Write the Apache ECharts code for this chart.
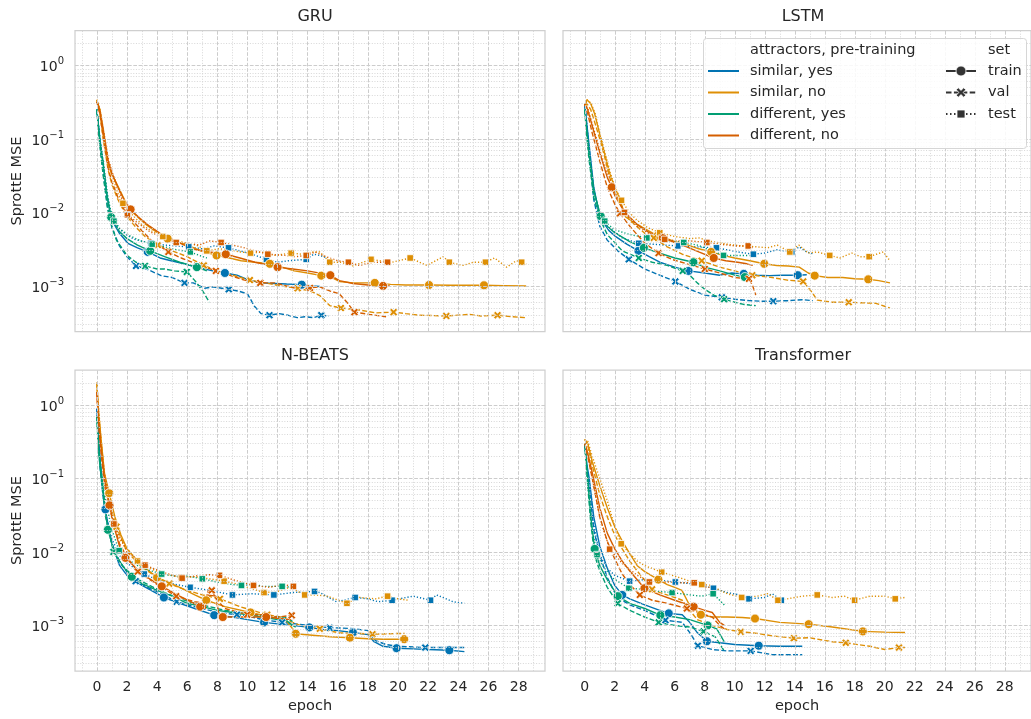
<!DOCTYPE html>
<html><head><meta charset="utf-8">
<script src="https://cdn.jsdelivr.net/npm/echarts@6.0.0/dist/echarts.min.js"></script>
<style>html,body{margin:0;padding:0;background:#fff}#c{width:1031px;height:719px}</style>
</head><body><div id="c"></div>
<script>
// ---------------- labels / ticks ----------------
const PANEL_TITLES = ['GRU', 'LSTM', 'N-BEATS', 'Transformer'];
const GROUP_LABELS = ['similar, yes', 'similar, no', 'different, yes', 'different, no'];
const SET_LABELS = ['train', 'val', 'test'];
const LEGEND_TITLE_GROUP = 'attractors, pre-training';
const LEGEND_TITLE_SET = 'set';
const X_TICKS = [0, 2, 4, 6, 8, 10, 12, 14, 16, 18, 20, 22, 24, 26, 28];
const Y_TICK_EXP = [-3, -2, -1, 0];
const Y_NAME = 'SprottE MSE';
const X_NAME = 'epoch';

// ---------------- data: [epoch, MSE, marker?] ----------------
// GRU
const gru_simYes_train = [[0,0.25],[0.2,0.1],[0.42,0.046],[0.68,0.017],[0.9,0.0095],[1.1,0.0072],[1.5,0.0052],[2.06,0.0038],[2.7,0.0033],[3.38,0.0029,1],[4.2,0.0024],[4.93,0.0022],[5.8,0.002],[6.7,0.00178],[7.7,0.0016],[8.5,0.0015,1],[9.3,0.0014],[10.1,0.0012],[10.9,0.0011],[11.8,0.00108],[12.6,0.00106],[13.6,0.00104,1],[14.3,0.001],[14.8,0.00098]];
const gru_simYes_val = [[0,0.25],[0.2,0.09],[0.42,0.035],[0.7,0.012],[1.0,0.0062],[1.5,0.0035],[2.0,0.0025],[2.6,0.00187,1],[3.3,0.0017],[4.27,0.00138],[5.0,0.0013],[5.82,0.0011,1],[6.4,0.0011],[7.15,0.00093],[7.7,0.00097],[8.76,0.0009,1],[9.4,0.00085],[10.0,0.00078],[10.46,0.00053],[10.9,0.00042],[11.46,0.0004,1],[12.1,0.00042],[12.67,0.0004],[13.3,0.00037],[13.8,0.00038],[14.4,0.00037],[14.9,0.0004,1],[15.4,0.00039]];
const gru_simYes_test = [[0,0.25],[0.2,0.1],[0.45,0.04],[0.7,0.016],[1.0,0.0088],[1.5,0.006],[2.0,0.0049],[2.5,0.0043],[3.6,0.0038,1],[4.5,0.0036],[5.2,0.0035],[6.1,0.0034,1],[7.0,0.0032],[7.8,0.0035],[8.74,0.0033,1],[9.5,0.003],[10.3,0.0027],[11.26,0.0023,1],[12.0,0.0021],[12.7,0.0022],[13.9,0.0023,1],[14.4,0.0027],[14.8,0.0026],[15.3,0.0024]];
const gru_simNo_train = [[0,0.34],[0.2,0.25],[0.42,0.13],[0.75,0.046],[0.97,0.034],[1.3,0.025],[1.75,0.0162],[2.08,0.0118],[2.5,0.0095],[3.16,0.0071],[3.9,0.0055],[4.7,0.0044,1],[5.4,0.0039],[6.04,0.0036],[6.9,0.003],[7.95,0.0026,1],[8.8,0.0024],[9.58,0.0022],[10.5,0.0021],[11.48,0.002,1],[12.3,0.0018],[13.1,0.0016],[14.0,0.0015],[14.9,0.00138,1],[15.6,0.0013],[16.1,0.00115],[17.0,0.0011],[18.45,0.0011,1],[19.5,0.00105],[20.5,0.00103],[22.05,0.00103,1],[23.5,0.00102],[25.7,0.00102,1],[27.0,0.00101],[28.5,0.001]];
const gru_simNo_val = [[0,0.34],[0.2,0.22],[0.42,0.1],[0.75,0.038],[1.0,0.024],[1.4,0.015],[1.9,0.0095],[2.5,0.0066],[3.2,0.0047],[4.05,0.0036,1],[5.0,0.003],[6.0,0.0025],[7.1,0.0019,1],[8.0,0.0016],[9.0,0.0014],[10.16,0.0012,1],[11.2,0.0011],[12.2,0.001],[13.33,0.00093,1],[14.2,0.00085],[14.8,0.00074],[15.46,0.00054],[16.2,0.0005,1],[17.45,0.00047],[18.5,0.00043],[19.7,0.00044,1],[20.5,0.00042],[21.4,0.0004],[23.2,0.00039,1],[24.76,0.00041],[25.5,0.00039],[26.6,0.0004,1],[27.6,0.00038],[28.5,0.00037]];
const gru_simNo_test = [[0,0.34],[0.2,0.26],[0.42,0.14],[0.75,0.05],[1.0,0.033],[1.4,0.018],[1.73,0.0133,1],[2.3,0.0095],[3.0,0.0068],[3.7,0.0055],[4.38,0.0047,1],[5.2,0.0042],[6.0,0.0038],[6.6,0.0036],[7.3,0.003,1],[8.1,0.0032],[8.8,0.0031],[9.5,0.0029],[10.2,0.0028,1],[11.0,0.0029],[11.8,0.0026],[12.9,0.0028,1],[13.6,0.0027],[14.3,0.0029],[14.8,0.0029],[15.46,0.0021,1],[16.2,0.0021],[17.0,0.00187],[18.2,0.0023,1],[18.8,0.0022],[19.6,0.0021],[20.8,0.0024,1],[21.9,0.0019],[23.0,0.0025],[23.4,0.0021,1],[24.3,0.0019],[25.0,0.0021],[25.8,0.0021,1],[26.4,0.0024],[27.2,0.0018],[27.85,0.0022],[28.2,0.0021,1],[28.5,0.002]];
const gru_difYes_train = [[0,0.25],[0.2,0.09],[0.42,0.046],[0.68,0.0163],[0.95,0.0086,1],[1.5,0.0055],[2.0,0.0044],[2.7,0.0036],[3.54,0.003,1],[4.5,0.0025],[5.5,0.0021],[6.64,0.0018,1],[7.0,0.0017],[7.3,0.0016]];
const gru_difYes_val = [[0,0.25],[0.2,0.08],[0.42,0.032],[0.7,0.012],[0.9,0.0075],[1.3,0.0042],[2.0,0.0026],[2.6,0.0021],[3.2,0.00187,1],[4.0,0.0017],[4.5,0.0017],[5.15,0.0016],[5.97,0.00155,1],[6.48,0.0012],[7.0,0.00087],[7.47,0.0006]];
const gru_difYes_test = [[0,0.25],[0.2,0.1],[0.42,0.05],[0.7,0.018],[0.9,0.011],[1.13,0.0076,1],[1.6,0.0058],[2.2,0.0048],[2.9,0.0041],[3.67,0.0037,1],[4.5,0.0034],[5.3,0.0031],[6.2,0.0029,1],[6.8,0.0026],[7.3,0.0024]];
const gru_difNo_train = [[0,0.32],[0.2,0.24],[0.42,0.13],[0.75,0.05],[1.0,0.034],[1.4,0.022],[1.8,0.015],[2.24,0.011,1],[2.8,0.0085],[3.5,0.0065],[4.2,0.0052],[5.0,0.0043],[5.8,0.0036],[6.6,0.0031],[7.5,0.0029],[8.56,0.0027,1],[9.5,0.0024],[10.5,0.0021],[12.0,0.0018,1],[13.0,0.0017],[14.0,0.0016],[15.5,0.0014,1],[16.1,0.00118],[17.0,0.00108],[18.0,0.00103],[19.0,0.001,1],[19.45,0.001]];
const gru_difNo_val = [[0,0.32],[0.2,0.22],[0.42,0.11],[0.75,0.04],[1.0,0.026],[1.4,0.016],[1.8,0.011],[2.2,0.0085],[2.8,0.0062],[3.6,0.0042],[4.75,0.0029,1],[5.6,0.0024],[6.6,0.002],[7.9,0.0016,1],[8.8,0.0014],[9.8,0.0012],[10.85,0.0011,1],[11.8,0.0011],[12.6,0.001],[13.4,0.00092],[14.15,0.00094,1],[14.8,0.00097],[15.5,0.00085],[16.1,0.00078],[16.6,0.0006],[17.1,0.00044,1],[18.1,0.00041],[19.2,0.00038]];
const gru_difNo_test = [[0,0.32],[0.2,0.25],[0.42,0.14],[0.75,0.055],[1.0,0.036],[1.5,0.019],[2.03,0.0093,1],[2.6,0.0075],[3.5,0.0055],[4.5,0.0043],[5.27,0.0039,1],[6.0,0.0038],[6.8,0.0036],[7.5,0.0041],[8.25,0.0039,1],[9.0,0.0036],[9.8,0.0033],[10.5,0.003],[11.35,0.0027,1],[12.5,0.0026],[13.2,0.0025],[13.9,0.0026,1],[14.5,0.0029],[15.2,0.0025],[16.0,0.0022],[16.7,0.0021,1],[17.45,0.0019],[18.3,0.0021],[19.3,0.0021,1],[19.55,0.002]];

// LSTM
const lstm_simYes_train = [[0,0.3],[0.15,0.15],[0.3,0.08],[0.6,0.022],[0.9,0.011],[1.2,0.0075],[1.6,0.0057],[2.0,0.0048],[2.8,0.0037],[3.58,0.003,1],[4.3,0.0025],[5.0,0.0021],[6.0,0.0018],[6.92,0.0016,1],[8.0,0.0015],[9.0,0.0014],[9.8,0.0015],[10.6,0.00146,1],[11.5,0.0014],[12.3,0.00138],[13.2,0.0014],[14.2,0.0014,1],[14.8,0.00142]];
const lstm_simYes_val = [[0,0.3],[0.15,0.14],[0.3,0.06],[0.6,0.015],[1.0,0.0065],[1.5,0.0042],[2.2,0.003],[2.94,0.0023,1],[4.0,0.0017],[5.0,0.0014],[6.04,0.00115,1],[7.0,0.0009],[8.0,0.00075],[9.14,0.0007,1],[10.0,0.00066],[11.0,0.00063],[11.8,0.00062],[12.57,0.00062,1],[13.5,0.00063],[14.5,0.00065],[15.2,0.00063]];
const lstm_simYes_test = [[0,0.3],[0.15,0.15],[0.3,0.07],[0.6,0.02],[1.0,0.0095],[1.5,0.0065],[2.5,0.0045],[3.6,0.0038,1],[4.5,0.0037],[5.3,0.0036],[6.2,0.0035,1],[7.5,0.0034],[8.78,0.0033,1],[9.5,0.0031],[10.2,0.0029],[11.24,0.0027,1],[12.0,0.0028],[12.8,0.0031],[13.8,0.0029,1],[14.3,0.0034],[14.8,0.0029],[15.3,0.0027]];
const lstm_simNo_train = [[0,0.28],[0.15,0.34],[0.4,0.3],[0.66,0.22],[0.9,0.14],[1.1,0.096],[1.4,0.055],[1.66,0.034],[2.0,0.022],[2.3,0.016],[2.72,0.0087],[3.2,0.0075],[3.83,0.0063],[4.85,0.0048,1],[5.15,0.0047],[6.0,0.004],[6.9,0.0036],[7.6,0.0032],[8.43,0.0029,1],[9.2,0.0026],[10.0,0.0024],[11.0,0.0022],[11.97,0.002,1],[12.8,0.0019],[13.56,0.00187],[14.3,0.0018],[14.9,0.0015],[15.33,0.00138,1],[16.2,0.0013],[17.2,0.0013],[18.0,0.00125],[18.9,0.00123,1],[19.6,0.00118],[20.35,0.0011]];
const lstm_simNo_val = [[0,0.28],[0.15,0.3],[0.4,0.25],[0.7,0.16],[1.0,0.1],[1.3,0.06],[1.66,0.03],[2.0,0.019],[2.3,0.014],[3.0,0.0078],[4.0,0.0052],[4.6,0.0045,1],[5.5,0.0034],[6.5,0.0027],[7.8,0.0022,1],[9.0,0.0018],[10.0,0.0016],[11.17,0.0014,1],[12.5,0.0013],[13.5,0.0012],[14.56,0.00115,1],[15.15,0.00082],[15.5,0.00064],[16.5,0.0006],[17.6,0.0006,1],[18.5,0.00059],[19.4,0.00058],[20.35,0.0005]];
const lstm_simNo_test = [[0,0.28],[0.15,0.34],[0.4,0.31],[0.7,0.22],[1.0,0.12],[1.3,0.07],[1.7,0.035],[2.0,0.022],[2.45,0.0146,1],[3.0,0.0098],[3.5,0.0078],[4.2,0.0062],[5.0,0.0053,1],[6.0,0.0047],[7.0,0.0044],[7.6,0.0045],[8.5,0.004],[9.5,0.0037],[10.5,0.0035],[11.5,0.0034],[12.2,0.0033],[12.83,0.0036],[13.67,0.0029,1],[14.27,0.0036],[14.9,0.0028],[15.5,0.0029],[16.33,0.0026,1],[17.0,0.0024],[17.8,0.0028],[18.4,0.0025],[18.96,0.0025,1],[19.9,0.0029],[20.35,0.0022]];
const lstm_difYes_train = [[0,0.25],[0.15,0.12],[0.3,0.06],[0.6,0.02],[1.06,0.0089,1],[1.5,0.0065],[2.0,0.0053],[3.0,0.004],[3.94,0.0033,1],[5.0,0.0028],[6.0,0.0024],[7.24,0.0021,1],[8.0,0.0018],[9.0,0.0016],[10.0,0.0014],[10.67,0.00132,1],[11.0,0.0013]];
const lstm_difYes_val = [[0,0.25],[0.15,0.1],[0.3,0.05],[0.6,0.016],[1.06,0.0078],[1.5,0.005],[2.5,0.003],[3.6,0.0024,1],[4.5,0.0021],[5.5,0.0019],[6.53,0.0016,1],[7.0,0.0014],[7.5,0.0011],[8.0,0.0009],[8.6,0.00075],[9.29,0.00066,1],[10.0,0.0006],[10.6,0.00056],[11.4,0.00054]];
const lstm_difYes_test = [[0,0.25],[0.15,0.12],[0.3,0.06],[0.6,0.02],[1.0,0.0095],[1.33,0.0076,1],[2.0,0.0058],[3.0,0.005],[4.14,0.0045,1],[5.0,0.0042],[5.8,0.0041],[6.6,0.0039,1],[7.5,0.0036],[8.5,0.003],[9.25,0.0026,1],[10.0,0.0026],[11.0,0.0026]];
const lstm_difNo_train = [[0,0.3],[0.2,0.25],[0.5,0.15],[1.0,0.065],[1.5,0.03],[1.8,0.022,1],[2.0,0.017],[2.6,0.0105],[3.5,0.0068],[4.3,0.0053],[5.2,0.0045,1],[6.0,0.0039],[6.8,0.0034],[7.6,0.0029],[8.6,0.0024,1],[9.4,0.0022],[10.2,0.0021],[10.8,0.002],[11.2,0.0019]];
const lstm_difNo_val = [[0,0.3],[0.2,0.22],[0.5,0.12],[1.0,0.05],[1.5,0.022],[2.0,0.013],[2.35,0.0097,1],[3.0,0.0065],[4.0,0.0038],[4.92,0.0028,1],[5.8,0.0023],[6.8,0.002],[8.0,0.0017,1],[9.0,0.0015],[10.0,0.0013],[10.95,0.00125,1],[11.2,0.001],[11.4,0.00075]];
const lstm_difNo_test = [[0,0.3],[0.2,0.26],[0.5,0.16],[1.0,0.07],[1.5,0.035],[2.0,0.019],[2.65,0.01,1],[3.5,0.0065],[4.4,0.005],[5.33,0.0043,1],[6.2,0.0041],[7.0,0.0041],[8.14,0.0039,1],[9.0,0.0037],[10.0,0.0035],[10.9,0.0035,1],[11.3,0.0032]];

// N-BEATS
const nb_simYes_train = [[0,0.9],[0.1,0.4],[0.2,0.2],[0.4,0.07],[0.57,0.038,1],[0.8,0.02],[1.0,0.013],[1.5,0.0066],[2.0,0.0048],[3.0,0.0035],[4.45,0.0024,1],[5.5,0.002],[6.5,0.0017],[7.79,0.00138,1],[9.0,0.0013],[10.0,0.0012],[11.1,0.0011,1],[12.0,0.00105],[13.0,0.001],[14.1,0.00094,1],[15.0,0.00088],[16.0,0.00085],[17.0,0.0008,1],[18.0,0.00075],[18.4,0.0006],[19.0,0.00052],[19.9,0.00049,1],[21.0,0.00048],[22.0,0.00047],[23.4,0.00046,1],[24.4,0.00044]];
const nb_simYes_val = [[0,0.9],[0.1,0.35],[0.2,0.15],[0.4,0.06],[0.6,0.03],[1.0,0.013],[1.5,0.0075],[2.0,0.0053],[2.58,0.004,1],[3.5,0.0032],[4.3,0.0027],[5.3,0.0021,1],[6.5,0.0018],[7.5,0.0016],[8.0,0.0015],[9.3,0.0014,1],[10.3,0.0013],[11.0,0.0012],[12.3,0.0011,1],[13.2,0.00105],[14.0,0.001],[15.46,0.00093,1],[16.3,0.00092],[17.1,0.0009],[18.0,0.00085],[18.5,0.00062],[19.2,0.00055],[20.0,0.00052],[21.8,0.0005,1],[23.0,0.0005],[24.4,0.0005]];
const nb_simYes_test = [[0,0.9],[0.1,0.4],[0.2,0.18],[0.5,0.04],[1.0,0.015],[1.5,0.009],[2.0,0.007],[3.15,0.005,1],[4.0,0.0042],[5.0,0.0037],[6.19,0.0033,1],[7.5,0.003],[9.0,0.0026,1],[10.3,0.0027],[11.75,0.0026,1],[13.0,0.0028],[14.45,0.0029,1],[14.8,0.0028],[15.9,0.0021],[17.15,0.0024,1],[18.0,0.0023],[18.67,0.0021],[19.6,0.0022,1],[21.0,0.0025],[22.15,0.0022,1],[22.55,0.0026],[23.65,0.0021],[24.4,0.002]];
const nb_simNo_train = [[0,2.0],[0.1,0.9],[0.25,0.4],[0.5,0.12],[0.82,0.063,1],[1.2,0.03],[1.6,0.017],[2.0,0.011],[3.0,0.0065],[4.0,0.0045,1],[5.5,0.0033],[6.5,0.0026],[7.26,0.0022,1],[8.5,0.0018],[10.2,0.0015,1],[11.5,0.0013],[12.5,0.0012],[13.0,0.0009],[13.2,0.00077,1],[14.5,0.00073],[15.5,0.0007],[16.8,0.00068,1],[18.0,0.00066],[19.0,0.00065],[20.4,0.00065,1],[20.5,0.00065]];
const nb_simNo_val = [[0,2.0],[0.1,0.8],[0.3,0.3],[0.6,0.07],[1.0,0.035],[1.3,0.022,1],[2.0,0.01],[3.0,0.0062],[4.0,0.0045],[4.8,0.0037,1],[6.0,0.003],[7.0,0.0026],[8.17,0.0023,1],[9.5,0.0018],[11.3,0.0014,1],[12.2,0.0013],[13.0,0.0011],[13.5,0.001],[14.8,0.0009,1],[16.1,0.00079],[17.2,0.00078],[18.3,0.00076,1],[19.3,0.00077],[20.44,0.00078]];
const nb_simNo_test = [[0,2.0],[0.1,1.0],[0.25,0.4],[0.5,0.1],[1.0,0.03],[1.5,0.015],[2.7,0.0075,1],[3.5,0.006],[4.5,0.005],[5.6,0.0045,1],[6.5,0.0046],[7.5,0.0043],[8.45,0.004,1],[9.5,0.0036],[10.0,0.0033],[11.1,0.0028,1],[12.0,0.0029],[12.8,0.0033],[13.8,0.0026,1],[14.5,0.0026],[15.3,0.0025],[16.6,0.002,1],[17.45,0.0024],[18.5,0.0023],[19.3,0.0025,1],[20.0,0.0023],[20.7,0.0022]];
const nb_difYes_train = [[0,0.7],[0.1,0.3],[0.2,0.15],[0.5,0.045],[0.73,0.02,1],[1.2,0.0095],[1.7,0.0065],[2.32,0.0046,1],[3.0,0.0037],[4.0,0.003],[5.0,0.0025],[6.0,0.002],[7.0,0.0018],[8.0,0.0016],[9.0,0.0015],[10.0,0.0014],[11.0,0.0013],[12.0,0.0012],[12.5,0.0012],[13.0,0.001],[13.2,0.00095]];
const nb_difYes_val = [[0,0.7],[0.1,0.25],[0.3,0.12],[0.6,0.03],[1.1,0.01,1],[1.7,0.0065],[2.5,0.0045],[3.5,0.0035],[4.5,0.0028],[5.5,0.0023],[6.5,0.002],[7.5,0.0018],[8.5,0.0016],[9.5,0.0015],[10.5,0.0014],[11.5,0.0013],[12.5,0.0013],[13.1,0.0011]];
const nb_difYes_test = [[0,0.7],[0.1,0.3],[0.25,0.15],[0.5,0.06],[1.0,0.02],[1.48,0.0104,1],[2.0,0.008],[3.0,0.006],[4.3,0.005,1],[5.5,0.0046],[6.0,0.0047],[7.0,0.0043,1],[8.5,0.0037],[9.6,0.0035,1],[10.5,0.0036],[11.0,0.0034],[12.3,0.0034,1],[13.0,0.0033]];
const nb_difNo_train = [[0,1.5],[0.1,0.7],[0.25,0.3],[0.5,0.1],[0.84,0.043,1],[1.2,0.02],[1.5,0.012],[1.9,0.0083,1],[3.0,0.005],[4.31,0.0034,1],[5.5,0.0025],[6.86,0.0018,1],[7.2,0.0017],[7.3,0.0026],[7.9,0.0025],[8.1,0.0014],[8.36,0.0013,1],[9.5,0.0013],[10.5,0.0013],[11.24,0.0013,1],[12.0,0.00125],[12.9,0.0012]];
const nb_difNo_val = [[0,1.5],[0.1,0.6],[0.3,0.2],[0.6,0.06],[1.0,0.03],[1.5,0.013],[2.0,0.0085],[2.72,0.0054,1],[4.0,0.0036],[5.27,0.0025,1],[6.5,0.0021],[7.2,0.002],[7.4,0.003],[7.63,0.003,1],[8.0,0.0022],[8.5,0.0017],[9.98,0.0014,1],[11.0,0.0014],[12.0,0.0013],[12.94,0.00137,1],[13.1,0.0013]];
const nb_difNo_test = [[0,1.5],[0.1,0.7],[0.25,0.3],[0.5,0.12],[1.13,0.024,1],[2.0,0.01],[3.2,0.0066,1],[4.5,0.0052],[5.66,0.0044,1],[6.5,0.0047],[7.5,0.0049],[8.14,0.0048,1],[9.0,0.0042],[10.4,0.0035,1],[11.5,0.0033],[12.3,0.0036],[13.05,0.0034,1]];

// Transformer
const tf_simYes_train = [[0,0.3],[0.15,0.15],[0.3,0.1],[0.6,0.03],[1.0,0.012],[1.5,0.006],[2.0,0.0035],[2.5,0.0026,1],[3.0,0.0023],[4.0,0.0019],[5.0,0.0016],[5.6,0.00146,1],[6.5,0.0014],[7.0,0.0011],[7.5,0.0008],[8.14,0.00061,1],[9.0,0.00058],[10.0,0.00055],[11.6,0.00053,1],[13.0,0.00052],[14.5,0.00052]];
const tf_simYes_val = [[0,0.3],[0.15,0.14],[0.3,0.08],[0.6,0.02],[1.0,0.009],[1.5,0.0045],[2.0,0.0028],[2.5,0.0022],[3.0,0.0019],[4.0,0.0016],[5.38,0.00118,1],[6.5,0.0011],[7.0,0.0008],[7.54,0.00053,1],[8.5,0.00047],[9.5,0.00045],[11.06,0.00045,1],[12.5,0.0004],[14.5,0.0004]];
const tf_simYes_test = [[0,0.3],[0.15,0.12],[0.3,0.06],[0.5,0.03],[1.0,0.009],[1.5,0.006],[2.0,0.0048],[2.99,0.004,1],[4.0,0.0042],[5.0,0.0041],[6.04,0.0039,1],[7.0,0.0037],[8.0,0.0034],[8.58,0.0032,1],[9.5,0.0028],[10.3,0.0026],[10.95,0.0023,1],[12.0,0.0024],[12.5,0.0027],[13.1,0.0022,1],[13.2,0.0021]];
const tf_simNo_train = [[0,0.34],[0.2,0.3],[0.5,0.17],[1.0,0.08],[1.5,0.04],[2.0,0.022],[2.5,0.014],[3.0,0.0095],[3.5,0.0065],[4.0,0.0054],[4.91,0.0042,1],[5.5,0.0036],[6.0,0.0033],[6.48,0.003],[6.92,0.002],[7.74,0.0014,1],[8.5,0.0013],[9.5,0.0013],[10.5,0.00128],[11.35,0.00124,1],[13.0,0.0011],[14.93,0.00104,1],[16.5,0.00095],[18.54,0.00083,1],[20.0,0.00081],[21.35,0.0008]];
const tf_simNo_val = [[0,0.34],[0.2,0.28],[0.5,0.15],[1.0,0.06],[1.5,0.03],[2.0,0.017],[2.5,0.011],[3.0,0.0075],[3.5,0.0055],[4.49,0.0031,1],[5.0,0.0028],[6.0,0.0024],[6.5,0.0022],[7.0,0.0016],[7.5,0.0012],[8.5,0.001],[9.5,0.00088],[10.4,0.00082,1],[11.5,0.00078],[12.5,0.00072],[13.94,0.00067,1],[15.0,0.00068],[16.5,0.0006],[17.4,0.00058,1],[19.0,0.00052],[20.0,0.00047],[20.95,0.0005,1],[21.35,0.0005]];
const tf_simNo_test = [[0,0.34],[0.2,0.32],[0.5,0.2],[1.0,0.1],[1.5,0.05],[2.0,0.022],[2.43,0.0129,1],[3.0,0.0095],[3.5,0.0075],[4.0,0.0065],[5.13,0.0053,1],[6.0,0.0047],[7.0,0.004],[7.8,0.0036,1],[8.5,0.0035],[9.0,0.003],[9.5,0.0027],[10.46,0.0024,1],[11.5,0.0025],[12.2,0.0027],[12.88,0.0022,1],[13.5,0.0023],[14.0,0.0024],[14.5,0.0025],[15.5,0.0026,1],[16.5,0.0024],[17.3,0.0025],[17.99,0.0022,1],[19.0,0.0025],[20.0,0.0025],[20.7,0.0023,1],[21.35,0.0024]];
const tf_difYes_train = [[0,0.3],[0.2,0.1],[0.4,0.03],[0.66,0.011,1],[1.0,0.0065],[1.5,0.0042],[2.2,0.0025,1],[3.0,0.002],[4.0,0.0017],[5.04,0.00138,1],[6.0,0.0013],[7.0,0.0012],[8.19,0.001,1],[8.8,0.0009],[9.3,0.0006]];
const tf_difYes_val = [[0,0.3],[0.2,0.08],[0.4,0.025],[0.66,0.009],[1.0,0.0055],[1.5,0.0033],[2.2,0.002,1],[3.0,0.0016],[4.0,0.0013],[4.93,0.0011,1],[6.0,0.001],[7.0,0.00095],[7.92,0.00083,1],[8.7,0.0007],[9.3,0.00045]];
const tf_difYes_test = [[0,0.3],[0.15,0.12],[0.3,0.06],[0.5,0.02],[0.82,0.0092,1],[1.2,0.0065],[1.8,0.0045],[2.94,0.0032,1],[4.0,0.0031],[5.0,0.0029],[5.82,0.0028,1],[7.0,0.0026],[7.8,0.0025],[8.56,0.0027,1],[9.3,0.0019]];
const tf_difNo_train = [[0,0.3],[0.2,0.22],[0.5,0.12],[1.0,0.04],[1.5,0.018],[2.0,0.011],[2.5,0.0075],[3.0,0.0055],[3.98,0.0032,1],[5.0,0.0026],[6.0,0.0022],[7.26,0.0018,1],[8.0,0.0016],[8.5,0.0015],[9.0,0.0011],[9.3,0.001]];
const tf_difNo_val = [[0,0.3],[0.2,0.2],[0.5,0.1],[1.0,0.03],[1.5,0.014],[2.0,0.008],[2.5,0.005],[3.0,0.0036],[3.67,0.0026,1],[4.5,0.0022],[5.5,0.002],[6.81,0.0017,1],[7.5,0.0015],[8.5,0.0013],[9.0,0.001],[9.3,0.0009]];
const tf_difNo_test = [[0,0.3],[0.2,0.22],[0.5,0.1],[1.0,0.03],[1.66,0.0109,1],[2.5,0.007],[3.5,0.0048],[4.31,0.0039,1],[5.5,0.0039],[6.5,0.0038],[7.3,0.0038,1],[8.0,0.0033],[8.8,0.0033]];

// ---------------- assembly ----------------
const PANEL_RUNS = [
  [[gru_simYes_train, gru_simYes_val, gru_simYes_test],[gru_simNo_train, gru_simNo_val, gru_simNo_test],[gru_difYes_train, gru_difYes_val, gru_difYes_test],[gru_difNo_train, gru_difNo_val, gru_difNo_test]],
  [[lstm_simYes_train, lstm_simYes_val, lstm_simYes_test],[lstm_simNo_train, lstm_simNo_val, lstm_simNo_test],[lstm_difYes_train, lstm_difYes_val, lstm_difYes_test],[lstm_difNo_train, lstm_difNo_val, lstm_difNo_test]],
  [[nb_simYes_train, nb_simYes_val, nb_simYes_test],[nb_simNo_train, nb_simNo_val, nb_simNo_test],[nb_difYes_train, nb_difYes_val, nb_difYes_test],[nb_difNo_train, nb_difNo_val, nb_difNo_test]],
  [[tf_simYes_train, tf_simYes_val, tf_simYes_test],[tf_simNo_train, tf_simNo_val, tf_simNo_test],[tf_difYes_train, tf_difYes_val, tf_difYes_test],[tf_difNo_train, tf_difNo_val, tf_difNo_test]]
];

const COLORS = ['#0173b2', '#de8f05', '#029e73', '#d55e00'];
const TEXT = '#262626';
const FONT = 'DejaVu Sans';
const X_PATH = 'path://M0,2.3L2.3,0L5,2.7L7.7,0L10,2.3L7.3,5L10,7.7L7.7,10L5,7.3L2.3,10L0,7.7L2.7,5Z';
const SET_STYLE = [
  {type: 'solid', symbol: 'circle', size: 9},
  {type: [5, 2.2], symbol: X_PATH, size: 8},
  {type: [1.2, 2], symbol: 'rect', size: 6.5}
];
const X_MIN = -1.45, X_MAX = 29.75, Y_MIN = -3.62, Y_MAX = 0.475;

const GRIDS = [
  {left: 75, top: 30.5, width: 470, height: 301},
  {left: 563, top: 30.5, width: 470, height: 301},
  {left: 75, top: 370, width: 470, height: 301},
  {left: 563, top: 370, width: 470, height: 301}
];

function gridMarkLines() {
  const d = [];
  const major = {color: '#cccccc', width: 1, type: [3.7, 1.6]};
  const minor = {color: '#d2d2d2', width: 0.9, type: [1, 1.65]};
  for (let x = -1; x <= 29; x++) {
    if (x % 2 === 0) d.push({xAxis: x, lineStyle: major});
    else d.push({xAxis: x, lineStyle: minor});
  }
  for (let n = -4; n <= 0; n++) {
    for (let k = 1; k <= 9; k++) {
      const v = Math.log10(k) + n;
      if (v <= Y_MIN || v >= Y_MAX) continue;
      d.push({yAxis: v, lineStyle: k === 1 ? major : minor});
    }
  }
  return d;
}

const SUP = {'0': '0', '-1': '−1', '-2': '−2', '-3': '−3'};

const xAxes = [], yAxes = [], series = [], titles = [];
GRIDS.forEach((g, p) => {
  const isBottom = p >= 2, isLeft = p % 2 === 0;
  xAxes.push({
    type: 'value', gridIndex: p, min: X_MIN, max: X_MAX,
    axisLine: {show: false}, axisTick: {show: false}, splitLine: {show: false},
    axisLabel: {show: isBottom, customValues: X_TICKS, color: TEXT, fontSize: 14, fontFamily: FONT, margin: 9},
    name: isBottom ? X_NAME : '', nameLocation: 'middle', nameGap: 28,
    nameTextStyle: {color: TEXT, fontSize: 14.5, fontFamily: FONT}
  });
  yAxes.push({
    type: 'value', gridIndex: p, min: Y_MIN, max: Y_MAX,
    axisLine: {show: false}, axisTick: {show: false}, splitLine: {show: false},
    axisLabel: {
      show: isLeft, customValues: Y_TICK_EXP, margin: 11,
      formatter: v => '{b|10}{s|' + SUP[String(Math.round(v))] + '}',
      rich: {
        b: {fontSize: 14, fontFamily: FONT, color: TEXT, lineHeight: 18, verticalAlign: 'bottom'},
        s: {fontSize: 10, fontFamily: FONT, color: TEXT, lineHeight: 18, verticalAlign: 'top'}
      }
    },
    name: isLeft ? Y_NAME : '', nameLocation: 'middle', nameGap: 50,
    nameTextStyle: {color: TEXT, fontSize: 14.5, fontFamily: FONT}
  });
  titles.push({
    text: PANEL_TITLES[p], left: g.left + g.width / 2, top: g.top - 27, textAlign: 'center',
    textStyle: {color: TEXT, fontSize: 16, fontWeight: 'normal', fontFamily: FONT}
  });
  series.push({
    type: 'line', xAxisIndex: p, yAxisIndex: p, data: [[-100, -100]], showSymbol: false,
    lineStyle: {opacity: 0}, silent: true, z: 1, animation: false,
    markLine: {silent: true, symbol: ['none', 'none'], label: {show: false}, animation: false, data: gridMarkLines()}
  });
  PANEL_RUNS[p].forEach((group, gi) => {
    group.forEach((run, si) => {
      const st = SET_STYLE[si];
      series.push({
        name: GROUP_LABELS[gi] + ' / ' + SET_LABELS[si],
        type: 'line', xAxisIndex: p, yAxisIndex: p, z: 3,
        data: run.map(pt => ({value: [pt[0], Math.log10(pt[1])], symbol: pt[2] ? st.symbol : 'none'})),
        symbol: st.symbol, symbolSize: st.size, showSymbol: true, showAllSymbol: true,
        lineStyle: {color: COLORS[gi], width: 1.4, type: st.type},
        itemStyle: {color: COLORS[gi], borderColor: '#ffffff', borderWidth: 0.8},
        emphasis: {disabled: true}, silent: true, animation: false
      });
    });
  });
});

// ---------------- legend (drawn inside LSTM panel) ----------------
const LEG = {x: 703.5, y: 38.5, w: 323, h: 110, rows: [71, 92.5, 114, 135.5], head: 50,
  c1Line: [708, 739], c1Text: 750, c2Line: [946, 976], c2Mark: 961, c2Text: 988};
const legendEls = [
  {type: 'rect', shape: {x: LEG.x, y: LEG.y, width: LEG.w, height: LEG.h, r: 3},
   style: {fill: 'rgba(255,255,255,0.85)', stroke: '#d6d6d6', lineWidth: 1}, z: 100},
  {type: 'text', x: LEG.c1Text, y: LEG.head, z: 101,
   style: {text: LEGEND_TITLE_GROUP, fill: TEXT, fontSize: 14.5, fontFamily: FONT, verticalAlign: 'middle'}},
  {type: 'text', x: LEG.c2Text, y: LEG.head, z: 101,
   style: {text: LEGEND_TITLE_SET, fill: TEXT, fontSize: 14.5, fontFamily: FONT, verticalAlign: 'middle'}}
];
GROUP_LABELS.forEach((lab, i) => {
  const y = LEG.rows[i];
  legendEls.push({type: 'line', z: 101, shape: {x1: LEG.c1Line[0], y1: y, x2: LEG.c1Line[1], y2: y},
    style: {stroke: COLORS[i], lineWidth: 2}});
  legendEls.push({type: 'text', x: LEG.c1Text, y: y, z: 101,
    style: {text: lab, fill: TEXT, fontSize: 14.5, fontFamily: FONT, verticalAlign: 'middle'}});
});
const DASH = [null, [5.5, 2.4], [1.5, 2.5]];
SET_LABELS.forEach((lab, i) => {
  const y = LEG.rows[i];
  const ls = {stroke: '#333333', lineWidth: 2};
  if (DASH[i]) ls.lineDash = DASH[i];
  legendEls.push({type: 'line', z: 101, shape: {x1: LEG.c2Line[0], y1: y, x2: LEG.c2Line[1], y2: y}, style: ls});
  const cx = LEG.c2Mark;
  const mk = {fill: '#333333', stroke: '#ffffff', lineWidth: 0.8};
  if (i === 0) legendEls.push({type: 'circle', z: 102, shape: {cx: cx, cy: y, r: 5}, style: mk});
  if (i === 1) {
    const s = 4.8, a = 2.1;
    legendEls.push({type: 'polygon', z: 102, style: mk, shape: {points: [
      [cx - s, y - s + a], [cx - s + a, y - s], [cx, y - a], [cx + s - a, y - s], [cx + s, y - s + a], [cx + a, y],
      [cx + s, y + s - a], [cx + s - a, y + s], [cx, y + a], [cx - s + a, y + s], [cx - s, y + s - a], [cx - a, y]]}});
  }
  if (i === 2) legendEls.push({type: 'rect', z: 102, shape: {x: cx - 4, y: y - 4, width: 8, height: 8}, style: mk});
  legendEls.push({type: 'text', x: LEG.c2Text, y: y, z: 101,
    style: {text: lab, fill: TEXT, fontSize: 14.5, fontFamily: FONT, verticalAlign: 'middle'}});
});

const chart = echarts.init(document.getElementById('c'), null, {renderer: 'canvas'});
chart.setOption({
  backgroundColor: '#ffffff',
  animation: false,
  textStyle: {fontFamily: FONT},
  title: titles,
  grid: GRIDS.map(g => Object.assign({show: true, borderColor: '#cfcfcf', borderWidth: 1.25, backgroundColor: 'transparent', containLabel: false}, g)),
  xAxis: xAxes,
  yAxis: yAxes,
  series: series,
  graphic: {elements: legendEls}
});
</script></body></html>
